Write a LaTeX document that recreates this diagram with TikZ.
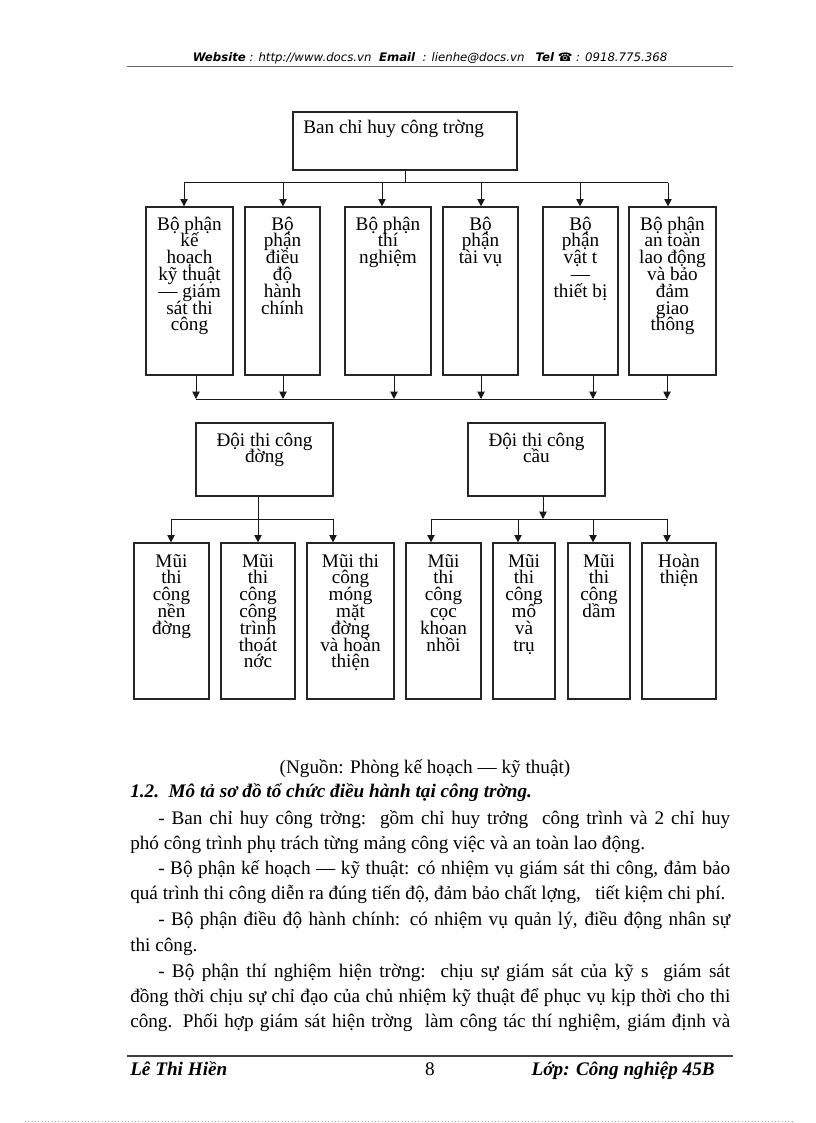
\documentclass[tikz,border=0pt]{standalone}
\usepackage{fontspec}
\setmainfont{Liberation Serif}
\newfontfamily\hdrfont{DejaVu Sans}
\usetikzlibrary{arrows.meta,fit}
\newcommand\tightls{\lineskiplimit=-1000pt\relax\lineskip=0pt\relax}
\newcommand\boxfont{\fontsize{14.4}{12.6}\selectfont\tightls}
\newcommand\bodyfont{\fontsize{14.4}{17}\selectfont}
\begin{document}
\begin{tikzpicture}[x=0.75pt,y=-0.75pt,
  box/.style={draw=black!85, line width=0.9pt, inner sep=0pt},
  lbl/.style={inner sep=0pt, align=center, anchor=base, font=\boxfont},
  conn/.style={line width=0.75pt, draw=black!90},
  arr/.style={conn, -{Triangle[length=5.5pt,width=5.5pt]}},
  body/.style={inner sep=0pt, anchor=base west, font=\bodyfont},
  foot/.style={inner sep=0pt, font=\bodyfont\bfseries\itshape},
]
\useasboundingbox (0,0) rectangle (816,1123);

% header
\node[anchor=base, inner sep=0pt, font=\hdrfont\fontsize{8.8}{10}\selectfont\itshape] (hdr) at (430,62)
  {\textbf{Website} : http://www.docs.vn\ \ \textbf{Email}\ \ : lienhe@docs.vn\ \ \ \textbf{Tel} ☎ : 0918.775.368};
\coordinate (hl1) at (127,66); \coordinate (hl2) at (733,66);
\draw[black!60, line width=0.6pt] (hl1) -- (hl2);

% boxes
\node[box, fit={(293,112) (517,170)}] (top) {};
\node[box, fit={(146,207) (233,375)}] (a) {};
\node[box, fit={(245,207) (320,375)}] (b) {};
\node[box, fit={(345,207) (431,375)}] (c) {};
\node[box, fit={(443,207) (518,375)}] (d) {};
\node[box, fit={(543,207) (618,375)}] (e) {};
\node[box, fit={(629,207) (716,375)}] (f) {};
\node[box, fit={(196,423) (333,496)}] (L) {};
\node[box, fit={(468,423) (605,496)}] (R) {};
\node[box, fit={(134,543) (209,699)}] (m1) {};
\node[box, fit={(221,543) (295,699)}] (m2) {};
\node[box, fit={(307,543) (394,699)}] (m3) {};
\node[box, fit={(406,543) (481,699)}] (m4) {};
\node[box, fit={(493,543) (555,699)}] (m5) {};
\node[box, fit={(568,543) (630,699)}] (m6) {};
\node[box, fit={(642,543) (716,699)}] (m7) {};

% texts (anchor = baseline of last line)
\node[inner sep=0pt, anchor=base west, font=\boxfont] (ttop) at (303,134) {Ban chỉ huy công trờng};
\node[lbl] (ta) at (189.5,330.8) {Bộ phận\\kế\\hoạch\\kỹ thuật\\— giám\\sát thi\\công};
\node[lbl] (tb) at (282.5,314) {Bộ\\phận\\điều\\độ\\hành\\chính};
\node[lbl] (tc) at (388,263.6) {Bộ phận\\thí\\nghiệm};
\node[lbl] (td) at (480.5,263.6) {Bộ\\phận\\tài vụ};
\node[lbl] (te) at (580.5,297.2) {Bộ\\phận\\vật t\\—\\thiết bị};
\node[lbl] (tf) at (672.5,330.8) {Bộ phận\\an toàn\\lao động\\và bảo\\đảm\\giao\\thông};
\node[lbl] (tL) at (264.5,462.8) {Đội thi công\\đờng};
\node[lbl] (tR) at (536.5,462.8) {Đội thi công\\cầu};
\node[lbl] (t1) at (171.5,634.2) {Mũi\\thi\\công\\nền\\đờng};
\node[lbl] (t2) at (258,667.8) {Mũi\\thi\\công\\công\\trình\\thoát\\nớc};
\node[lbl] (t3) at (350.5,667.8) {Mũi thi\\công\\móng\\mặt\\đờng\\và hoàn\\thiện};
\node[lbl] (t4) at (443.5,651) {Mũi\\thi\\công\\cọc\\khoan\\nhồi};
\node[lbl] (t5) at (524,651) {Mũi\\thi\\công\\mố\\và\\trụ};
\node[lbl] (t6) at (599,617.4) {Mũi\\thi\\công\\dầm};
\node[lbl] (t7) at (679,583.8) {Hoàn\\thiện};

% connectors: top level
\coordinate (s1) at (405,183);
\draw[conn] (top.south) -- (s1);
\foreach \x/\n in {184/a,283/b,382/c,481/d,580/e,668/f}{
  \coordinate (p\n) at (\x,183);
  \draw[arr] (p\n) -- (p\n |- \n.north);
}
\draw[conn] (pa) -- (pf);

% row 1 to lower bus
\foreach \x/\n in {196/a,283/b,394/c,481/d,593/e,667/f}{
  \coordinate (u\n) at (\x,399);
  \draw[arr] (u\n |- \n.south) -- (u\n);
}
\draw[conn] (ua) -- (uf);

% left team
\coordinate (lj) at (258,519);
\draw[conn] (lj |- L.south) -- (lj);
\foreach \x/\n in {171/m1,258/m2,333/m3}{
  \coordinate (q\n) at (\x,519);
  \draw[arr] (q\n) -- (q\n |- \n.north);
}
\draw[conn] (qm1) -- (qm3);

% right team
\coordinate (rj) at (543,519);
\draw[arr] (rj |- R.south) -- (rj);
\foreach \x/\n in {431/m4,518/m5,593/m6,667/m7}{
  \coordinate (q\n) at (\x,519);
  \draw[arr] (q\n) -- (q\n |- \n.north);
}
\draw[conn] (qm4) -- (qm7);

% caption and body
\node[anchor=base, inner sep=0pt, font=\bodyfont] (cap) at (425,773) {(Nguồn: Phòng kế hoạch — kỹ thuật)};
\node[body, font=\bodyfont\bfseries\itshape] (head) at (130,797) {1.2.\ \ Mô tả sơ đồ tổ chức điều hành tại công trờng.};
\node[body] (l1) at (158,824) {\hbox to 429pt{- Ban chỉ huy công trờng:\ \ gồm chỉ huy trởng\ \ công trình và 2 chỉ huy}};
\node[body] (l2) at (130,849) {phó công trình phụ trách từng mảng công việc và an toàn lao động.};
\node[body] (l3) at (158,874) {\hbox to 429pt{- Bộ phận kế hoạch — kỹ thuật: có nhiệm vụ giám sát thi công, đảm bảo}};
\node[body] (l4) at (130,899) {quá trình thi công diễn ra đúng tiến độ, đảm bảo chất lợng,\ \ \ tiết kiệm chi phí.};
\node[body] (l5) at (158,925) {\hbox to 429pt{- Bộ phận điều độ hành chính: có nhiệm vụ quản lý, điều động nhân sự}};
\node[body] (l6) at (130,951) {thi công.};
\node[body] (l7) at (158,977) {\hbox to 429pt{- Bộ phận thí nghiệm hiện trờng:\ \ chịu sự giám sát của kỹ s\ \ giám sát}};
\node[body] (l8) at (130,1002) {\hbox to 450pt{đồng thời chịu sự chỉ đạo của chủ nhiệm kỹ thuật để phục vụ kịp thời cho thi}};
\node[body] (l9) at (130,1027) {\hbox to 450pt{công. Phối hợp giám sát hiện trờng\ \ làm công tác thí nghiệm, giám định và}};

% footer
\coordinate (fl1) at (127,1056); \coordinate (fl2) at (733,1056);
\draw[black!75, line width=1pt] (fl1) -- (fl2);
\node[foot, anchor=base west] (fa) at (130,1075) {Lê Thi Hiền};
\node[inner sep=0pt, anchor=base, font=\bodyfont] (fb) at (430,1075) {8};
\node[foot, anchor=base east] (fc) at (715,1075) {Lớp: Công nghiệp 45B};

% page edge dots
\coordinate (d1) at (25,1121); \coordinate (d2) at (792,1121);
\draw[black!35, line width=0.5pt, dotted] (d1) -- (d2);
\end{tikzpicture}
\end{document}
